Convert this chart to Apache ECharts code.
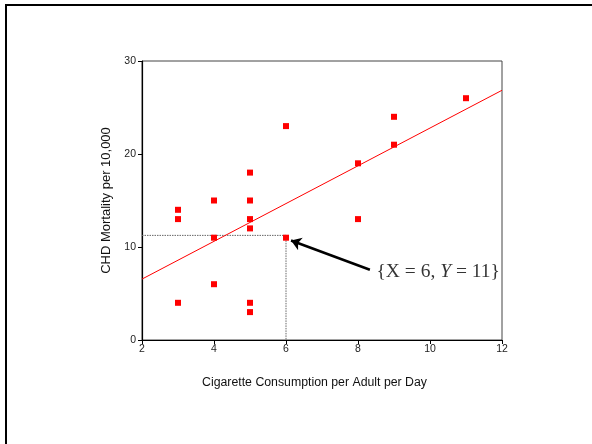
<!DOCTYPE html>
<html>
<head>
<meta charset="utf-8">
<script src="https://cdn.jsdelivr.net/npm/echarts@6/dist/echarts.min.js"></script>
<style>
html,body{margin:0;padding:0;background:#fff;}
#chart{width:592px;height:444px;}
</style>
</head>
<body>
<div id="chart"></div>
<script>
// Data
const cigarettes = [3, 3, 3, 4, 4, 4, 5, 5, 5, 5, 5, 5, 6, 6, 8, 8, 9, 9, 11];
const mortality  = [14, 13, 4, 15, 11, 6, 18, 15, 13, 12, 4, 3, 23, 11, 19, 13, 24, 21, 26];
// Fitted line end points as drawn
const fitX = [2, 12];
const fitY = [6.55, 26.85];
// Highlighted point guides
const guideH = [[2, 11.25], [6, 11.25]];
const guideV = [[6, 11.25], [6, 0]];
// Arrow (tail, head) and label anchor in data units
const arrowPts = [[8.33, 7.55], [6.14, 10.7]];
const labelAnchor = [8.5, 7.3];
const xTicks = [2, 4, 6, 8, 10, 12];
const yTicks = [0, 10, 20, 30];

const chart = echarts.init(document.getElementById('chart'));
const sans = 'Liberation Sans';
const option = {
  animation: false,
  backgroundColor: '#fff',
  grid: {left: 142, top: 61, width: 360, height: 279, show: true, borderColor: '#444', borderWidth: 1, backgroundColor: 'transparent'},
  xAxis: {
    type: 'value', min: xTicks[0], max: xTicks[xTicks.length-1], interval: 2,
    axisLine: {show: true, onZero: false, lineStyle: {color: '#000', width: 1.2}},
    axisTick: {show: true, length: 4, lineStyle: {color: '#000'}},
    axisLabel: {fontFamily: sans, fontSize: 10.5, color: '#222', margin: 4},
    splitLine: {show: false}
  },
  yAxis: {
    type: 'value', min: yTicks[0], max: yTicks[yTicks.length-1], interval: 10,
    name: 'CHD Mortality per 10,000', nameLocation: 'middle', nameGap: 28,
    nameTextStyle: {fontFamily: sans, fontSize: 13, color: '#111'},
    axisLine: {show: true, onZero: false, lineStyle: {color: '#000', width: 1.2}},
    axisTick: {show: true, length: 4, lineStyle: {color: '#000'}},
    axisLabel: {fontFamily: sans, fontSize: 10.5, color: '#222', margin: 6},
    splitLine: {show: false}
  },
  graphic: [
    {type: 'line', shape: {x1: 6, y1: 4, x2: 6, y2: 444}, style: {stroke: '#000', lineWidth: 2}},
    {type: 'line', shape: {x1: 5, y1: 5, x2: 592, y2: 5}, style: {stroke: '#000', lineWidth: 2}},
    {type: 'text', x: 314.5, y: 383, style: {text: 'Cigarette Consumption per Adult per Day', fontFamily: sans, fontSize: 12.3, fill: '#111', textAlign: 'center', textVerticalAlign: 'middle'}}
  ],
  series: [
    {type: 'line', data: fitX.map((x, i) => [x, fitY[i]]), symbol: 'none', lineStyle: {color: '#ff0000', width: 1}, z: 2},
    {type: 'line', data: guideH, symbol: 'none', lineStyle: {color: '#666', width: 1, type: [1.5, 1]}, z: 1},
    {type: 'line', data: guideV, symbol: 'none', lineStyle: {color: '#666', width: 1, type: [1.5, 1]}, z: 1},
    {type: 'scatter', data: cigarettes.map((x, i) => [x, mortality[i]]), symbol: 'rect', symbolSize: 6,
      itemStyle: {color: '#ff0000', opacity: 1}, z: 3},
    {type: 'lines', coordinateSystem: 'cartesian2d', data: [{coords: arrowPts}],
      symbol: ['none', 'arrow'], symbolSize: [7, 10],
      lineStyle: {color: '#000', width: 2.5, opacity: 1}, z: 4},
    {type: 'scatter', data: [labelAnchor], symbolSize: 1, itemStyle: {color: 'rgba(0,0,0,0)'},
      label: {show: true, position: 'right', distance: 0,
        formatter: function(){ return '{X = 6, {i|Y} = 11}'; },
        fontFamily: 'Liberation Serif', fontSize: 19.5, color: '#000',
        rich: {i: {fontFamily: 'Liberation Serif', fontSize: 19.5, fontStyle: 'italic', color: '#000'}}},
      z: 5}
  ]
};
chart.setOption(option);
</script>
</body>
</html>
